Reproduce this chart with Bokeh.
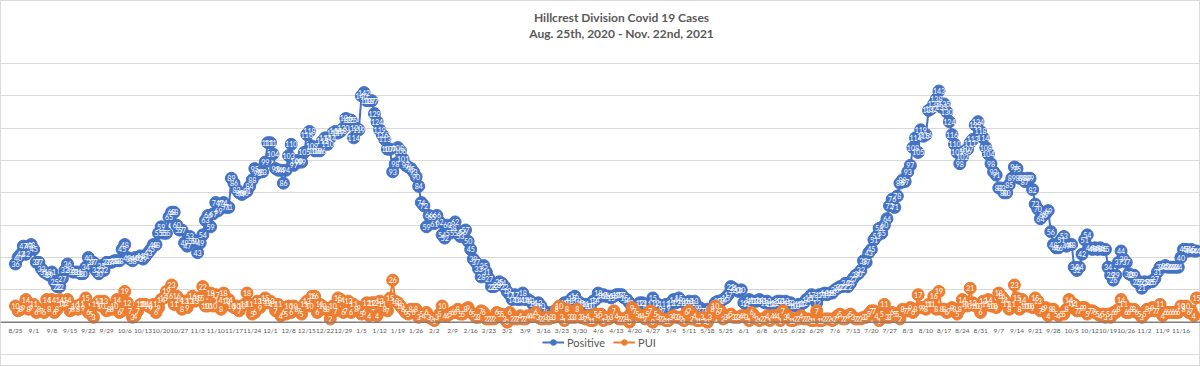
import pandas as pd
from bokeh.plotting import figure
from bokeh.models import (ColumnDataSource, FixedTicker, Legend, LegendItem,
                          Range1d, Label, Span)
from bokeh.core.properties import value
from bokeh.embed import file_html
from bokeh.resources import INLINE

# ---------------- data ----------------
dates = pd.date_range("2020-08-25", "2021-11-22", freq="D")
date_labels = [f"{d.month}/{d.day}" for d in dates]

positive = [
    36, 40, 42, 47, 42, 47, 48,
    45, 37, 37, 33, 31, 30, 29,
    31, 25, 22, 22, 27, 32, 36,
    32, 31, 31, 31, 30, 30, 34,
    40, 37, 37, 32, 30, 35, 32,
    37, 37, 37, 38, 38, 38, 45,
    48, 40, 39, 38, 40, 40, 41,
    39, 41, 43, 45, 48, 48, 55,
    59, 55, 55, 65, 68, 68, 60,
    57, 57, 49, 47, 53, 50, 50,
    43, 49, 54, 63, 66, 59, 67,
    74, 69, 73, 74, 71, 71, 89,
    86, 82, 80, 79, 80, 81, 84,
    88, 95, 92, 93, 93, 99, 111,
    111, 104, 95, 94, 94, 86, 94,
    103, 110, 97, 100, 99, 99, 105,
    116, 118, 109, 106, 106, 106, 112,
    114, 110, 114, 117, 118, 117, 118,
    120, 126, 125, 125, 114, 120, 119,
    140, 142, 137, 137, 137, 129, 124,
    119, 116, 113, 107, 107, 93, 98,
    108, 106, 101, 97, 96, 95, 93,
    90, 84, 74, 72, 59, 66, 65,
    61, 66, 62, 54, 52, 60, 55,
    58, 62, 55, 53, 56, 57, 50,
    45, 39, 37, 33, 28, 35, 31,
    27, 22, 22, 23, 25, 24, 22,
    19, 17, 14, 17, 14, 14, 18,
    14, 14, 13, 11, 10, 12, 10,
    7, 6, 5, 6, 5, 7, 8,
    10, 12, 12, 13, 15, 16, 13,
    12, 11, 11, 10, 10, 13, 14,
    18, 16, 17, 16, 16, 15, 16,
    17, 17, 17, 15, 14, 12, 7,
    10, 9, 12, 12, 9, 11, 9,
    15, 12, 11, 8, 7, 11, 9,
    12, 14, 12, 15, 13, 12, 12,
    13, 12, 13, 9, 9, 7, 7,
    8, 6, 7, 12, 13, 13, 14,
    15, 17, 22, 21, 20, 19, 20,
    12, 11, 14, 13, 13, 13, 14,
    13, 12, 13, 11, 11, 12, 13,
    13, 11, 13, 12, 12, 10, 10,
    11, 11, 12, 14, 15, 17, 15,
    12, 17, 17, 18, 17, 18, 18,
    20, 21, 22, 22, 24, 22, 24,
    27, 29, 30, 32, 38, 37, 43,
    45, 51, 53, 58, 55, 60, 64,
    72, 76, 71, 78, 86, 88, 87,
    93, 97, 108, 114, 105, 119, 115,
    116, 131, 132, 135, 138, 143, 133,
    135, 130, 124, 116, 110, 105, 98,
    102, 106, 107, 111, 113, 122, 124,
    118, 114, 108, 104, 98, 93, 91,
    83, 83, 80, 80, 85, 89, 96,
    95, 89, 89, 87, 89, 89, 82,
    73, 70, 64, 66, 67, 69, 56,
    48, 46, 46, 51, 53, 47, 48,
    48, 34, 32, 34, 42, 51, 54,
    46, 45, 46, 45, 46, 45, 45,
    34, 29, 26, 29, 37, 44, 39,
    37, 30, 29, 29, 25, 25, 21,
    25, 24, 25, 25, 27, 31, 34,
    34, 35, 34, 34, 34, 34, 34,
    40, 45, 45, 44, 45, 44, 44,
]

pui = [
    10, 7, 8, 9, 14, 8, 9,
    11, 6, 8, 7, 6, 14, 8,
    14, 6, 8, 14, 11, 12, 14,
    7, 8, 10, 8, 11, 9, 15,
    6, 5, 3, 11, 13, 10, 13,
    7, 8, 8, 10, 14, 6, 7,
    19, 12, 7, 3, 4, 7, 11,
    11, 11, 10, 9, 11, 6, 9,
    14, 15, 19, 16, 23, 11, 16,
    14, 8, 13, 9, 13, 16, 13,
    15, 15, 22, 10, 10, 18, 10,
    17, 14, 8, 18, 13, 14, 10,
    9, 10, 7, 10, 11, 18, 11,
    5, 6, 13, 9, 13, 15, 12,
    13, 11, 7, 11, 4, 6, 5,
    10, 6, 10, 8, 7, 5, 11,
    13, 10, 16, 16, 6, 11, 10,
    8, 8, 2, 10, 7, 15, 14,
    6, 7, 13, 6, 11, 8, 9,
    5, 6, 12, 4, 12, 12, 4,
    13, 11, 8, 7, 15, 26, 13,
    12, 10, 8, 6, 5, 8, 6,
    8, 3, 5, 4, 6, 3, 2,
    1, 3, 5, 10, 4, 4, 5,
    6, 6, 8, 5, 5, 8, 9,
    6, 5, 3, 3, 7, 6, 2,
    2, 2, 2, 6, 5, 5, 2,
    0, 6, 2, 2, 2, 4, 2,
    2, 4, 4, 4, 6, 3, 2,
    2, 3, 2, 3, 3, 8, 10,
    3, 1, 8, 3, 3, 3, 8,
    3, 3, 2, 4, 1, 1, 5,
    4, 5, 1, 3, 2, 3, 7,
    4, 2, 2, 2, 3, 0, 9,
    7, 5, 4, 4, 2, 5, 7,
    0, 5, 3, 2, 2, 1, 1,
    3, 4, 3, 3, 2, 1, 6,
    7, 2, 4, 1, 1, 3, 1,
    0, 3, 8, 10, 6, 7, 2,
    3, 4, 5, 3, 3, 3, 4,
    4, 3, 1, 6, 4, 2, 1,
    2, 2, 4, 1, 4, 4, 4,
    1, 7, 3, 4, 1, 1, 2,
    2, 4, 2, 2, 2, 1, 1,
    7, 1, 1, 2, 2, 2, 1,
    2, 4, 5, 2, 2, 4, 5,
    3, 2, 2, 2, 3, 3, 5,
    7, 7, 4, 1, 5, 11, 3,
    3, 6, 5, 5, 2, 8, 7,
    7, 9, 6, 8, 17, 9, 9,
    8, 11, 11, 16, 8, 19, 8,
    8, 6, 7, 9, 8, 5, 8,
    14, 11, 10, 21, 12, 10, 10,
    6, 13, 11, 14, 10, 10, 9,
    18, 16, 14, 11, 8, 11, 23,
    15, 8, 14, 10, 10, 10, 9,
    15, 13, 7, 8, 9, 4, 8,
    8, 5, 4, 5, 5, 8, 14,
    12, 11, 7, 7, 9, 9, 5,
    7, 7, 6, 5, 4, 5, 3,
    5, 3, 6, 6, 8, 14, 11,
    6, 6, 8, 8, 6, 5, 3,
    5, 8, 7, 9, 7, 7, 11,
    4, 6, 6, 6, 6, 6, 6,
    10, 8, 10, 6, 7, 4, 15,
]

title_lines = ["Hillcrest Division Covid 19 Cases",
               "Aug. 25th, 2020 - Nov. 22nd, 2021"]
series_names = ["Positive", "PUI"]

n = min(len(positive), len(pui), len(dates))
x = list(range(n))
tick_idx = list(range(0, n, 7))
tick_text = [date_labels[i] for i in tick_idx]

BLUE = "#4472C4"
ORANGE = "#ED7D31"
GREY = "#595959"
FONT = "Lato"

W, H = 1200, 366
# frame fills the whole figure; ranges chosen so that 160 and -20 sit where
# the reference chart has them (y=63 and y=354), first point at x=15
PX_PER_UNIT = 291 / 180.0
y_top = 160 + 63 / PX_PER_UNIT
y_bot = -20 - (H - 354) / PX_PER_UNIT
PX_PER_DAY = (1196 - 15) / float(n - 1)
x_left = -15 / PX_PER_DAY
x_right = (n - 1) + (W - 1196) / PX_PER_DAY

src = ColumnDataSource(dict(
    x=x,
    pos=positive[:n],
    pui=pui[:n],
    pos_t=[str(v) for v in positive[:n]],
    pui_t=[str(v) for v in pui[:n]],
))
tick_src = ColumnDataSource(dict(x=tick_idx, y=[0] * len(tick_idx), t=tick_text))

p = figure(width=W, height=H, output_backend="svg", toolbar_location=None,
           x_range=Range1d(x_left, x_right), y_range=Range1d(y_bot, y_top),
           min_border=0)
p.title = None
p.outline_line_color = "#D9D9D9"
p.outline_line_width = 1
p.background_fill_color = "white"
p.border_fill_color = "white"

p.xaxis.visible = False
p.yaxis.visible = False
p.xgrid.visible = False
p.ygrid.ticker = FixedTicker(ticks=list(range(-20, 161, 20)))
p.ygrid.grid_line_color = "#D9D9D9"
p.ygrid.grid_line_width = 1

# category axis line at zero
p.add_layout(Span(location=0, dimension="width", line_color="#7F7F7F",
                  line_width=1.5))

# tick labels of the date axis
p.text("x", "y", text="t", source=tick_src, text_color=GREY,
       text_font=value(FONT), text_font_size="6.5px", text_align="center",
       text_baseline="middle", y_offset=8)

# title (two lines)
for i, t in enumerate(title_lines):
    p.add_layout(Label(x=621, y=H - 17 - 16 * i, x_units="screen", y_units="screen",
                       text=t, text_align="center", text_baseline="middle",
                       text_font=FONT, text_font_size="12px",
                       text_font_style="bold", text_color=GREY))

l1 = p.line("x", "pos", source=src, line_color=BLUE, line_width=2)
s1 = p.scatter("x", "pos", source=src, size=12, fill_color=BLUE, line_color=BLUE)
p.text("x", "pos", text="pos_t", source=src, text_color="white",
       text_font=value(FONT), text_font_size="7px", text_align="center",
       text_baseline="middle")

l2 = p.line("x", "pui", source=src, line_color=ORANGE, line_width=2)
s2 = p.scatter("x", "pui", source=src, size=12, fill_color=ORANGE, line_color=ORANGE)
p.text("x", "pui", text="pui_t", source=src, text_color="white",
       text_font=value(FONT), text_font_size="7px", text_align="center",
       text_baseline="middle")

legend = Legend(items=[LegendItem(label=series_names[0], renderers=[l1, s1]),
                       LegendItem(label=series_names[1], renderers=[l2, s2])],
                location="bottom_center", orientation="horizontal",
                background_fill_alpha=0, border_line_color=None,
                label_text_font=FONT, label_text_font_size="11px",
                label_text_color=GREY, glyph_width=22, glyph_height=14,
                spacing=8, margin=17, padding=2, label_standoff=3,
                label_height=14)
p.add_layout(legend, "center")

open("out.html", "w").write(file_html(p, INLINE))
